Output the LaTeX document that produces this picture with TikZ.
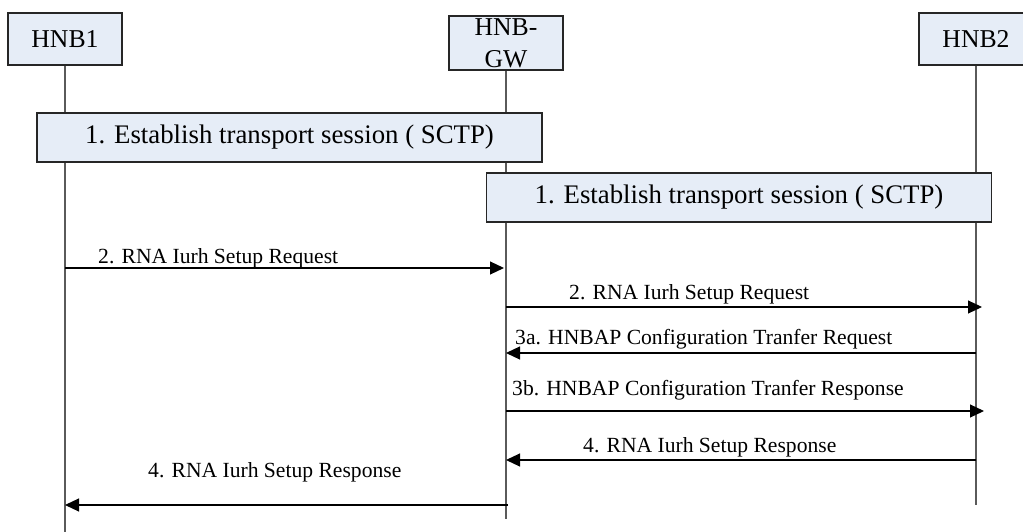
\documentclass[tikz,border=0pt]{standalone}
\usepackage{fontspec}
\setmainfont{Liberation Serif}
\usetikzlibrary{arrows.meta, positioning}
\definecolor{boxblue}{RGB}{230,237,247}
\definecolor{lifegray}{RGB}{90,90,90}

\begin{document}
\begin{tikzpicture}[x=1pt, y=-1pt,
  actor/.style={draw=black!85, fill=boxblue, line width=1.3pt, minimum width=114pt, minimum height=52pt, inner sep=0pt, font=\fontsize{25.7}{32}\selectfont, align=center},
  phase/.style={draw=black!85, fill=boxblue, line width=1.3pt, minimum width=505pt, minimum height=49pt, inner sep=0pt, font=\fontsize{26.8}{32}\selectfont},
  life/.style={draw=lifegray, line width=1.1pt},
  msg/.style={draw=black, line width=1.1pt, -{Triangle[length=14pt,width=13pt]}},
  msgtxt/.style={anchor=base west, inner sep=0pt, font=\fontsize{21.6}{26}\selectfont}]
\useasboundingbox (0,0) rectangle (1023,532);
\fill[white] (0,0) rectangle (1023,532);
\clip (0,0) rectangle (1023,532);

% Entities
\node[actor] (hnb1) at (65,39) {HNB1};
\node[actor, minimum height=54pt] (gw) at (506,43) {HNB-\\GW};
\node[actor] (hnb2) at (976,39) {HNB2};

% Lifelines
\coordinate (hnb1end) at (65,532);
\coordinate (gwend) at (506,519);
\coordinate (hnb2end) at (976,505);
\draw[life] (hnb1) -- (hnb1end);
\draw[life] (gw) -- (gwend);
\draw[life] (hnb2) -- (hnb2end);

% Transport sessions
\node[phase] (sctp1) at (289.5,137.5) {1. Establish transport session ( SCTP)};
\node[phase] (sctp2) at (739,197.5) {1. Establish transport session ( SCTP)};

% Messages
\draw[msg, shorten >=2pt] (hnb1 |- 0,268) -- (gw |- 0,268);
\node[msgtxt] (m2a) at (98,263) {2. RNA Iurh Setup Request};

\draw[msg, shorten >=-6pt] (gw |- 0,307) -- (hnb2 |- 0,307);
\node[msgtxt] (m2b) at (569,299) {2. RNA Iurh Setup Request};

\draw[msg] (hnb2 |- 0,353) -- (gw |- 0,353);
\node[msgtxt] (m3a) at (515,344) {3a. HNBAP Configuration Tranfer Request};

\draw[msg, shorten >=-8pt] (gw |- 0,411) -- (hnb2 |- 0,411);
\node[msgtxt] (m3b) at (512,395) {3b. HNBAP Configuration Tranfer Response};

\draw[msg] (hnb2 |- 0,460) -- (gw |- 0,460);
\node[msgtxt] (m4a) at (583,452) {4. RNA Iurh Setup Response};

\draw[msg, shorten <=-2pt] (gw |- 0,505) -- (hnb1 |- 0,505);
\node[msgtxt] (m4b) at (148,477) {4. RNA Iurh Setup Response};
\end{tikzpicture}
\end{document}
